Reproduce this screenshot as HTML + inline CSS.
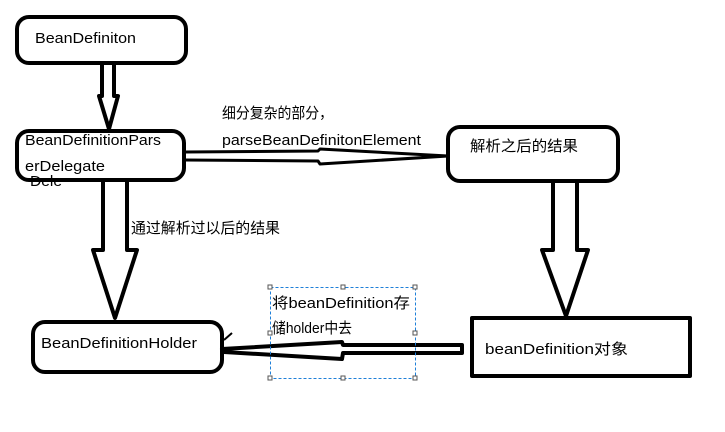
<!DOCTYPE html>
<html><head><meta charset="utf-8"><style>
html,body{margin:0;padding:0;background:#fff;width:725px;height:432px;overflow:hidden}
svg{display:block}
text{font-family:"Liberation Sans","Noto Sans CJK SC",sans-serif;font-size:15px;fill:#000}
</style></head><body>
<svg width="725" height="432" viewBox="0 0 725 432" xmlns="http://www.w3.org/2000/svg">
<g fill="none" stroke="#000" stroke-width="4" stroke-linejoin="round">
<rect x="17" y="17" width="169" height="46" rx="12"/>
<rect x="17" y="131" width="167" height="49" rx="12"/>
<rect x="448" y="127" width="170" height="54" rx="12"/>
<rect x="33" y="322" width="189" height="50" rx="12"/>
<rect x="472" y="318" width="218" height="58" rx="0"/>
<path d="M102 63 L102 96 L99 96 L109 129 L118 96 L114 96 L114 63"/>
<path d="M103 182 L103 250 L93 250 L115 318 L137 250 L127 250 L127 182"/>
<path d="M553 182 L553 250 L542 250 L566 316 L588 250 L577 250 L577 182"/>
<path d="M185 152 L318 151 L320 149 L448 156 L320 164 L318 161 L185 160" stroke-width="3"/>
<path d="M462 345 L462 353 L343 353 L342 359 L224 352 L222 349 L342 342 L343 345 Z" stroke-width="4"/>
</g>
<path d="M224 340 L232 333" stroke="#000" stroke-width="2"/>
<rect x="270.5" y="287.5" width="145" height="91" fill="none" stroke="#1e7fd8" stroke-width="1" stroke-dasharray="3,2"/>
<g fill="#fff" stroke="#555" stroke-width="1">
<rect x="268" y="285" width="4" height="4"/><rect x="341" y="285" width="4" height="4"/><rect x="413" y="285" width="4" height="4"/>
<rect x="268" y="331" width="4" height="4"/><rect x="413" y="331" width="4" height="4"/>
<rect x="268" y="376" width="4" height="4"/><rect x="341" y="376" width="4" height="4"/><rect x="413" y="376" width="4" height="4"/>
</g>
<text x="35" y="43" textLength="101" lengthAdjust="spacingAndGlyphs">BeanDefiniton</text>
<text x="25" y="145" textLength="136" lengthAdjust="spacingAndGlyphs">BeanDefinitionPars</text>
<text x="25" y="171" textLength="80" lengthAdjust="spacingAndGlyphs">erDelegate</text>
<text x="30" y="186" textLength="32" lengthAdjust="spacingAndGlyphs">Dele</text>
<text x="222" y="118" textLength="111" lengthAdjust="spacingAndGlyphs">细分复杂的部分，</text>
<text x="222" y="145" textLength="199" lengthAdjust="spacingAndGlyphs">parseBeanDefinitonElement</text>
<text x="470" y="151" textLength="108" lengthAdjust="spacingAndGlyphs">解析之后的结果</text>
<text x="131" y="233" textLength="149" lengthAdjust="spacingAndGlyphs">通过解析过以后的结果</text>
<text x="272" y="308" textLength="138" lengthAdjust="spacingAndGlyphs">将beanDefinition存</text>
<text x="272" y="333" textLength="80" lengthAdjust="spacingAndGlyphs">储holder中去</text>
<text x="41" y="348" textLength="156" lengthAdjust="spacingAndGlyphs">BeanDefinitionHolder</text>
<text x="485" y="354" textLength="143" lengthAdjust="spacingAndGlyphs">beanDefinition对象</text>
</svg>
</body></html>
